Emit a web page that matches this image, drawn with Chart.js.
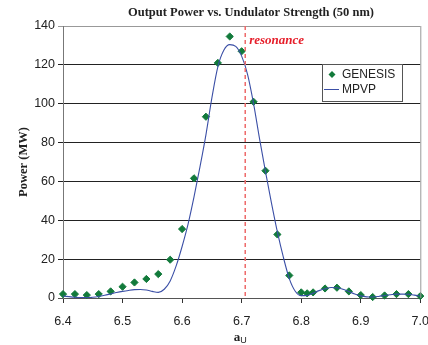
<!DOCTYPE html>
<html>
<head>
<meta charset="utf-8">
<script src="https://cdn.jsdelivr.net/npm/chart.js@4/dist/chart.umd.min.js"></script>
<style>
  html, body { margin: 0; padding: 0; background: #fff; overflow: hidden; }
  #wrap { width: 440px; height: 345px; position: relative; }
</style>
</head>
<body>
<div id="wrap"><canvas id="chart"></canvas></div>
<script>
// GENESIS simulation points
const genesisX = [6.40, 6.42, 6.44, 6.46, 6.48, 6.50, 6.52, 6.54, 6.56, 6.58, 6.60, 6.62, 6.64, 6.66, 6.68, 6.70,
                  6.72, 6.74, 6.76, 6.78, 6.80, 6.81, 6.82, 6.84, 6.86, 6.88, 6.90, 6.92, 6.94, 6.96, 6.98, 7.00];
const genesisY = [2, 2, 1.5, 2, 3.4, 5.8, 8, 9.8, 12.3, 19.7, 35.5, 61.6, 93.3, 121, 134.6, 127,
                  101, 65.5, 32.7, 11.6, 2.9, 2.4, 2.9, 4.9, 5.3, 3.4, 1.5, 0.5, 1.3, 2, 2, 1];

// MPVP curve
const mpvpX = [6.40, 6.41, 6.42, 6.43, 6.44, 6.45, 6.46, 6.47, 6.48, 6.49, 6.50, 6.51, 6.52, 6.53, 6.54, 6.55,
               6.56, 6.57, 6.58, 6.59, 6.60, 6.61, 6.62, 6.63, 6.64, 6.65, 6.66, 6.67, 6.68, 6.69, 6.70, 6.71,
               6.72, 6.73, 6.74, 6.75, 6.76, 6.77, 6.78, 6.79, 6.80, 6.81, 6.82, 6.83, 6.84, 6.85, 6.86, 6.87,
               6.88, 6.89, 6.90, 6.91, 6.92, 6.93, 6.94, 6.95, 6.96, 6.97, 6.98, 6.99, 7.00];
const mpvpY = [1.0, 0.7, 0.4, 0.2, 0.2, 0.4, 0.8, 1.4, 2.1, 2.8, 3.4, 3.9, 4.3, 4.4, 4.1, 3.4,
               2.9, 4.5, 8.8, 16.5, 26.5, 38, 52, 67.5, 84, 103, 119, 127.5, 130.4, 129.5, 124.5, 115,
               100, 82, 65, 49, 34, 21, 10, 3.5, 1.2, 1.3, 2.5, 3.8, 4.8, 5.4, 5.3, 4.5,
               3.3, 2.1, 1.1, 0.6, 0.5, 0.8, 1.3, 1.7, 2.0, 2.0, 1.9, 1.5, 1.0];

const yTicks = [0, 20, 40, 60, 80, 100, 120, 140];
const xTicks = [6.4, 6.5, 6.6, 6.7, 6.8, 6.9, 7.0];
const resonance = 6.706;

const titleText = 'Output Power vs. Undulator Strength (50 nm)';
const greenC = '#127a3b';
const blueC = '#3b4fa6';

const extras = {
    id: 'extras',
    afterDraw(chart) {
        const ctx = chart.ctx;
        const a = chart.chartArea;
        const xs = chart.scales.x;
        ctx.save();
        // right border
        ctx.strokeStyle = '#999';
        ctx.lineWidth = 1;
        ctx.beginPath();
        ctx.moveTo(a.right + 0.5, a.top);
        ctx.lineTo(a.right + 0.5, a.bottom);
        ctx.stroke();
        // resonance line
        const rx = xs.getPixelForValue(resonance);
        ctx.strokeStyle = '#ee6a6a';
        ctx.lineWidth = 1.5;
        ctx.setLineDash([4, 3]);
        ctx.beginPath();
        ctx.moveTo(rx, a.top);
        ctx.lineTo(rx, a.bottom);
        ctx.stroke();
        ctx.setLineDash([]);
        ctx.fillStyle = '#e61e2a';
        ctx.font = 'italic bold 13px "Liberation Serif"';
        ctx.textAlign = 'left';
        ctx.textBaseline = 'middle';
        ctx.fillText('resonance', rx + 4, 41);
        // title
        ctx.fillStyle = '#222';
        ctx.font = 'bold 12.5px "Liberation Serif"';
        ctx.textAlign = 'center';
        ctx.fillText(titleText, 251, 13);
        // x axis title a_U
        ctx.font = 'bold 13px "Liberation Serif"';
        ctx.textAlign = 'left';
        const w = ctx.measureText('a').width;
        const cx = (a.left + a.right) / 2 - 4;
        ctx.fillText('a', cx - 4, 338);
        ctx.font = '9px "Liberation Sans"';
        ctx.fillText('U', cx - 4 + w, 341);
        // legend
        ctx.fillStyle = '#fff';
        ctx.fillRect(322, 64, 81, 38);
        ctx.strokeStyle = '#555';
        ctx.lineWidth = 1;
        ctx.strokeRect(322.5, 64.5, 80, 37);
        ctx.fillStyle = greenC;
        ctx.beginPath();
        ctx.moveTo(332, 71); ctx.lineTo(335.5, 74.5); ctx.lineTo(332, 78); ctx.lineTo(328.5, 74.5);
        ctx.closePath();
        ctx.fill();
        ctx.strokeStyle = blueC;
        ctx.beginPath();
        ctx.moveTo(324, 89.5); ctx.lineTo(339, 89.5);
        ctx.stroke();
        ctx.fillStyle = '#222';
        ctx.font = '12px "Liberation Sans"';
        ctx.textAlign = 'left';
        ctx.fillText('GENESIS', 342, 75);
        ctx.fillText('MPVP', 342, 90);
        ctx.restore();
    }
};

const ctx = document.getElementById('chart').getContext('2d');
new Chart(ctx, {
    type: 'scatter',
    data: {
        datasets: [
            {
                label: 'GENESIS',
                data: genesisX.map((x, i) => ({ x: x, y: genesisY[i] })),
                pointStyle: 'rectRot',
                pointRadius: 3.6,
                backgroundColor: greenC,
                borderColor: greenC,
                borderWidth: 1,
                clip: false,
                order: 2,
            },
            {
                label: 'MPVP',
                type: 'line',
                data: mpvpX.map((x, i) => ({ x: x, y: mpvpY[i] })),
                borderColor: blueC,
                borderWidth: 1.1,
                pointRadius: 0,
                cubicInterpolationMode: 'monotone',
                fill: false,
                order: 1,
            },
        ],
    },
    options: {
        responsive: true,
        maintainAspectRatio: false,
        animation: false,
        layout: { padding: { top: 26, right: 17, left: 0, bottom: 0 } },
        plugins: {
            legend: { display: false },
            title: { display: false },
            tooltip: { enabled: false },
        },
        scales: {
            x: {
                type: 'linear',
                min: 6.4,
                max: 7.0,
                afterFit: (s) => { s.height = 47; },
                afterBuildTicks: (s) => { s.ticks = xTicks.map(v => ({ value: v })); },
                ticks: {
                    callback: (v) => Number(v).toFixed(1),
                    color: '#222',
                    font: { family: 'Liberation Sans', size: 12.5 },
                    padding: 11,
                    maxRotation: 0,
                },
                grid: { drawOnChartArea: false, tickLength: 5, color: '#333' },
                border: { color: '#555' },
            },
            y: {
                min: 0,
                max: 140,
                afterFit: (s) => { s.width = 63; },
                afterBuildTicks: (s) => { s.ticks = yTicks.map(v => ({ value: v })); },
                ticks: {
                    color: '#222',
                    font: { family: 'Liberation Sans', size: 12.5 },
                    padding: 3,
                },
                grid: {
                    tickLength: 5,
                    color: (c) => c.tick && c.tick.value === 140 ? '#999' : (c.tick && c.tick.value === 0 ? '#555' : '#222'),
                },
                border: { color: '#777' },
                title: {
                    display: true,
                    text: 'Power (MW)',
                    color: '#222',
                    font: { family: 'Liberation Serif', size: 12.5, weight: 'bold' },
                    padding: { top: 16, bottom: 0 },
                },
            },
        },
    },
    plugins: [extras],
});
</script>
</body>
</html>
